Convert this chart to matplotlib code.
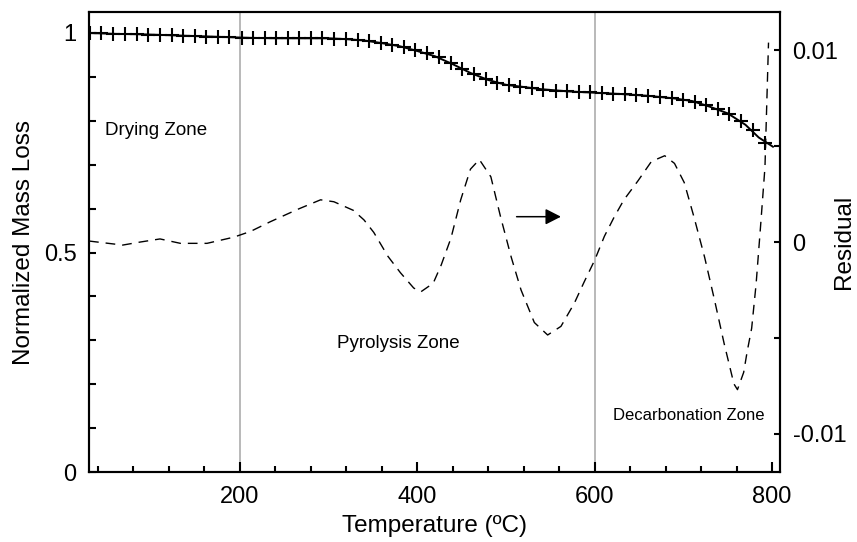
import matplotlib
matplotlib.use("Agg")
import matplotlib.pyplot as plt
from matplotlib.ticker import MultipleLocator

plt.rcParams['font.family'] = ['Liberation Sans', 'DejaVu Sans']

# Gemeten massaverlies (markers)
meet_temp = [31, 44, 57, 70, 84, 97, 110, 123, 136, 149, 162, 175, 188, 202, 215,
             228, 241, 254, 267, 280, 293, 306, 320, 333, 346, 359, 372, 385, 398,
             411, 424, 438, 451, 464, 477, 490, 503, 516, 529, 542, 556, 569, 582,
             595, 608, 621, 634, 647, 660, 674, 687, 700, 713, 726, 739, 752, 765,
             778, 792]
meet_massa = [1.000, 0.999, 0.998, 0.998, 0.997, 0.996, 0.995, 0.995, 0.994, 0.993,
              0.992, 0.991, 0.990, 0.989, 0.989, 0.988, 0.988, 0.988, 0.988, 0.988,
              0.988, 0.987, 0.986, 0.985, 0.982, 0.978, 0.973, 0.968, 0.961, 0.954,
              0.945, 0.932, 0.918, 0.906, 0.896, 0.887, 0.881, 0.877, 0.874, 0.871,
              0.869, 0.867, 0.866, 0.865, 0.864, 0.862, 0.861, 0.859, 0.857, 0.855,
              0.852, 0.848, 0.842, 0.835, 0.826, 0.815, 0.800, 0.779, 0.750]

# Model (doorgetrokken lijn)
fit_temp = [30, 60, 90, 120, 150, 180, 210, 240, 270, 300, 320, 340, 360, 380, 400,
            420, 440, 460, 480, 500, 520, 540, 570, 600, 630, 660, 690, 710, 730,
            750, 770, 785, 801]
fit_massa = [1.000, 0.998, 0.997, 0.995, 0.993, 0.991, 0.989, 0.988, 0.988, 0.988,
             0.986, 0.983, 0.977, 0.970, 0.959, 0.947, 0.929, 0.909, 0.893, 0.882,
             0.877, 0.872, 0.867, 0.864, 0.861, 0.857, 0.851, 0.845, 0.832, 0.817,
             0.791, 0.762, 0.741]

# Residu (gestreepte lijn, rechter as)
res_temp = [30, 68, 88, 110, 133, 163, 193, 212, 234, 265, 291, 306, 328, 340, 351,
            367, 381, 396, 404, 418, 427, 438, 449, 460, 470, 483, 494, 506, 517,
            532, 547, 562, 577, 588, 600, 611, 622, 633, 649, 664, 679, 690, 701,
            712, 724, 735, 746, 757, 761, 768, 772, 777, 782, 787, 792, 796]
res_waarde = [0.00005, -0.00016, 0.0, 0.00016, -0.00007, -0.00007, 0.00025, 0.00055,
              0.00105, 0.0017, 0.0022, 0.0021, 0.00165, 0.00115, 0.0005, -0.00075,
              -0.0016, -0.0024, -0.0026, -0.00215, -0.0012, 0.0002, 0.0022, 0.0038,
              0.0043, 0.0034, 0.0013, -0.0008, -0.0025, -0.0042, -0.00485, -0.0044,
              -0.0032, -0.0021, -0.00095, 0.0003, 0.0013, 0.0022, 0.0032, 0.0042,
              0.0045, 0.0041, 0.0031, 0.0013, -0.0008, -0.003, -0.0053, -0.0074,
              -0.0077, -0.0068, -0.0057, -0.0045, -0.0022, 0.0008, 0.0039, 0.0104]

zone_grenzen = [200, 600]

fig = plt.figure(figsize=(8.57, 5.42), dpi=100)
ax = fig.add_axes([0.1039, 0.129, 0.8063, 0.849])
ax2 = ax.twinx()

for g in zone_grenzen:
    ax.axvline(g, color='#a6a6a6', lw=1.1, zorder=1)

ax.plot(fit_temp, fit_massa, color='black', lw=1.4, zorder=3)
ax.plot(meet_temp, meet_massa, ls='none', marker='+', ms=10, mew=1.5,
        color='black', zorder=4)
ax2.plot(res_temp, res_waarde, color='black', lw=1.0, dashes=(7, 5))

ax.set_xlim(30, 809)
ax.set_ylim(0, 1.048)
ax2.set_ylim(-0.0120, 0.0120)

ax.set_xticks([200, 400, 600, 800])
ax.xaxis.set_minor_locator(MultipleLocator(40))
ax.set_yticks([0, 0.5, 1])
ax.set_yticklabels(['0', '0.5', '1'])
ax.yaxis.set_minor_locator(MultipleLocator(0.1))
ax2.set_yticks([-0.01, 0, 0.01])
ax2.set_yticklabels(['-0.01', '0', '0.01'])
ax2.yaxis.set_minor_locator(MultipleLocator(0.005))

ax.tick_params(axis='x', which='major', direction='in', length=7, width=1.5,
               labelsize=17, pad=10)
ax.tick_params(axis='x', which='minor', direction='in', length=4.5, width=1.5)
ax.tick_params(axis='y', which='both', direction='in', length=5, width=1.5,
               labelsize=17, pad=9)
ax2.tick_params(axis='y', which='both', direction='in', length=4.5, width=1.5,
                labelsize=17, pad=9)

for a in (ax, ax2):
    for s in a.spines.values():
        s.set_linewidth(1.5)

ax.set_xlabel('Temperature (ºC)', fontsize=17.5, labelpad=5)
ax.set_ylabel('Normalized Mass Loss', fontsize=17.5, labelpad=6)
ax2.set_ylabel('Residual', fontsize=17.5)
ax2.yaxis.set_label_coords(1.077, 0.5)

ax.text(48, 0.768, 'Drying Zone', fontsize=13.5)
ax.text(310, 0.283, 'Pyrolysis Zone', fontsize=13.5)
ax.text(621, 0.118, 'Decarbonation Zone', fontsize=12)

ax2.annotate('', xy=(562, 0.00132), xytext=(512, 0.00132),
             arrowprops=dict(arrowstyle='-|>,head_length=0.47,head_width=0.24',
                             mutation_scale=20, color='black', lw=1.1,
                             shrinkA=0, shrinkB=0))

fig.savefig('out.png', dpi=100)
